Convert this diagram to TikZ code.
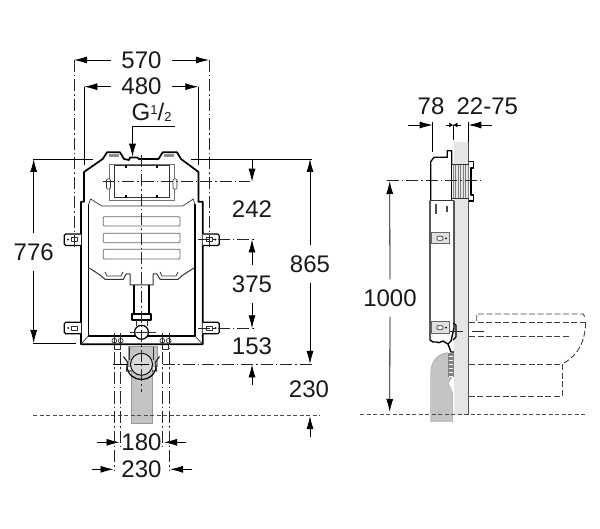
\documentclass[tikz,border=0pt]{standalone}
\usepackage{fontspec}
\setmainfont{Liberation Sans}
\usepackage{tikz}
\usetikzlibrary{arrows.meta,calc}

\begin{document}
\begin{tikzpicture}[
    x=1pt, y=-1pt,
    font=\fontsize{24}{26}\selectfont,
    measure/.style={inner sep=10pt, text=black!90},
    dim/.style={draw=black, line width=0.8pt, -{Latex[length=13pt,width=7pt]}},
    extline/.style={draw=black, line width=0.8pt},
    axisline/.style={draw=black!85, line width=0.9pt, dash pattern=on 12pt off 3pt on 1.5pt off 3pt},
    floorline/.style={draw=black!70, line width=0.8pt, dash pattern=on 4pt off 2.5pt},
    hidden/.style={draw=black!75, line width=0.9pt, dash pattern=on 6pt off 2.5pt},
    frameline/.style={draw=black, line width=1.7pt, line join=round},
    thinline/.style={draw=black!80, line width=0.7pt, line join=round},
    slot/.style={draw=black!60, line width=0.8pt, rounded corners=1pt},
    ear/.style={draw=black, fill=white, line width=1.2pt, rounded corners=1.5pt},
    drain/.style={fill=black!23, draw=black!40, line width=0.4pt}
]
    \useasboundingbox (0,0) rectangle (600,529);

    % Wall and drain pieces (side view) go first
    \fill[black!10] (453.5,141.7) rectangle (468.3,415);
    \draw[black!70, line width=1pt] (468.3,141.7) -- (468.3,415);

    % Front view: drain below the frame
    \path[drain] (131,365) rectangle (152.3,422.7);
    \path[drain] (127.7,346) rectangle (156.7,366);
    \draw[black, fill=black!15, line width=0.9pt] (141.5,364.3) circle (11);
    \draw[black, line width=1.2pt] (127,366) .. controls (128,384) and (155,384) .. (156,366);
    \foreach \sx in {1,-1} {
        \begin{scope}[shift={(141.5,0)}, xscale=\sx]
            \draw[thinline, line width=1.3pt] (18,356.5) -- (14,362) -- (15,371) -- (10.5,371);
            \draw[thinline, line width=1pt] (12,347) -- (12,360);
            % feet under the frame
            \draw[thinline] (27.2,344.5) -- (27.2,349) -- (20.8,349) -- (20.8,344.5);
            \draw[thinline, fill=white] (27.2,340.7) circle (2.4);
            \draw[thinline, fill=white] (20.8,340.7) circle (2.4);
        \end{scope}
    }

    % Frame outline
    \draw[frameline] (84,201.7) -- (84,172) -- (102.7,159) -- (107,152.3) -- (120,152.3) -- (124,159)
        -- (129,160) -- (130,157.5) -- (137,157.5) -- (139,159) -- (158.5,159) -- (162.7,152.3)
        -- (177,152.3) -- (181,159) -- (198.5,172) -- (198.5,201.7) -- (202.7,201.7) -- (202.7,344.3)
        -- (81,344.3) -- (81,201.7) -- cycle;
    \draw[frameline, line width=1.3pt] (88.3,204) -- (88.3,336) -- (195,336) -- (195,204);
    \draw[thinline] (81,344.3) -- (88.3,336);
    \draw[thinline] (202.7,344.3) -- (195,336);

    % Lugs on top
    \fill[black!45] (109.3,154.5) rectangle (118.7,157);
    \fill[black!45] (164.3,154.5) rectangle (174.3,157);

    % Panel
    \draw[draw=black!55, line width=0.8pt] (109.3,164) rectangle (174,200);
    \draw[draw=black!80, line width=1pt] (114.3,165.5) rectangle (169.3,198);
    \foreach \px in {126,157} {
        \fill[black] (\px-1,165.5) rectangle (\px+1,168);
        \fill[black] (\px-1,195.5) rectangle (\px+1,198);
    }
    \draw[thinline, fill=white, rounded corners=1pt] (106.5,179) rectangle (110.5,189);
    \draw[thinline, fill=white, rounded corners=1pt] (173,179) rectangle (177,189);

    % Tank
    \draw[thinline] (88.3,205) -- (90.7,199) -- (101.7,206) -- (182.7,206) -- (193.3,199) -- (195,205);
    \draw[slot] (103.3,216.7) rectangle (180,226);
    \draw[slot] (103.3,233.3) rectangle (180,242.7);
    \draw[slot] (103.3,249.3) rectangle (180,259);
    \draw[thinline, line width=1pt] (89.3,268) -- (100,275) -- (105,279.3) -- (123.3,279.3) -- (126,274) -- (130,274)
        -- (130,285) -- (134,285) -- (149,285) -- (153,285) -- (153,274) -- (157,274) -- (160,279.3)
        -- (178,279.3) -- (183,275) -- (194,268);
    \draw[thinline] (105,272) -- (107,276) -- (121,276) -- (123,272);
    \draw[thinline] (160,272) -- (162,276) -- (176,276) -- (178,272);

    % Pipe
    \draw[frameline, line width=1.1pt] (134,285) -- (134,314);
    \draw[frameline, line width=1.1pt] (149,285) -- (149,314);
    \draw[frameline, line width=1.1pt] (132,314) rectangle (151,320);
    \draw[thinline] (136,320) -- (136,326);
    \draw[thinline] (147,320) -- (147,326);
    \draw[draw=black, fill=white, line width=1.2pt] (141.5,332.3) circle (7);
    \draw[thinline, line width=0.9pt] (130,332.3) -- (155.7,332.3);

    % Ears
    \foreach \ey in {234,322.3} {
        \draw[ear] (81,\ey) -- (64.3,\ey) -- (64.3,\ey+11.5) -- (81,\ey+11.5);
        \draw[ear] (202.7,\ey) -- (219.3,\ey) -- (219.3,\ey+11.5) -- (202.7,\ey+11.5);
        \fill[black] (68,\ey+5.7) circle (1);
        \draw[thinline] (71,\ey+3.7) rectangle (77,\ey+7.7);
        \fill[black] (215.5,\ey+5.7) circle (1);
        \draw[thinline] (206,\ey+3.7) rectangle (212,\ey+7.7);
    }

    % Axes, front view
    \draw[axisline] (141.5,155) -- (141.5,392);
    \draw[axisline] (102.7,181.7) -- (250,181.7);
    \draw[axisline] (198,239.3) -- (255,239.3);
    \draw[axisline] (198,328.3) -- (255,328.3);
    \draw[axisline] (163,364.3) -- (312,364.3);
    \draw[extline] (113,364.3) -- (128,364.3);
    \draw[extline] (134,364.3) -- (149,364.3);

    % Extension lines
    \draw[axisline] (74,60) -- (74,248);
    \draw[axisline] (209,60) -- (209,248);
    \draw[extline] (84.3,86.7) -- (84.3,165);
    \draw[extline] (198.3,86.7) -- (198.3,165);
    \draw[extline] (33,159) -- (92.7,159);
    \draw[extline] (191,159) -- (312,159);
    \draw[extline] (33,343.7) -- (76,343.7);
    \draw[floorline] (33,415.7) -- (320,415.7);
    \draw[axisline] (114.3,333) -- (114.3,470);
    \draw[axisline] (120.7,333) -- (120.7,446);
    \draw[axisline] (162.7,333) -- (162.7,446);
    \draw[axisline] (169,333) -- (169,470);

    % Dimensions, front view
    \node[measure] (d570) at (141.5,60) {570};
    \draw[dim] (d570.west) -- (74,60);
    \draw[dim] (d570.east) -- (209,60);
    \node[measure] (d480) at (141.5,86.7) {480};
    \draw[dim] (d480.west) -- (84.3,86.7);
    \draw[dim] (d480.east) -- (198.3,86.7);

    \node[inner sep=0pt, anchor=base west, text=black!90] (gthread) at (131.5,121) {G\raisebox{6.5pt}{\fontsize{13}{13}\selectfont 1}/\raisebox{-0.5pt}{\fontsize{13}{13}\selectfont 2}};
    \coordinate (gend) at (175,126.7);
    \draw[dim] (gend) -| (132.5,156.7);

    \node[measure] (d776) at (33.7,252) {776};
    \draw[dim] (d776.north) -- (33.7,159);
    \draw[dim] (d776.south) -- (33.7,343);
    \node[measure] (d865) at (310,264) {865};
    \draw[dim] (d865.north) -- (310,159);
    \draw[dim] (d865.south) -- (310,364);

    \coordinate (t242) at (252,160);
    \draw[dim] (t242) -- (252,181.7);
    \node[measure] (d242) at (252,209) {242};
    \node[measure] (d375) at (252,284) {375};
    \draw[dim] (d375.north) -- (252,239.5);
    \draw[dim] (d375.south) -- (252,328.3);
    \node[measure] (d153) at (252,346.7) {153};
    \coordinate (t153) at (252,385);
    \draw[dim] (t153) -- (252,364.5);
    \node[measure] (d230r) at (309,389) {230};
    \coordinate (t230) at (310,437);
    \draw[dim] (t230) -- (310,416);

    \node[measure] (d180) at (141.5,442) {180};
    \coordinate (l180) at (96.7,442.3);
    \coordinate (r180) at (186,442.3);
    \draw[dim] (l180) -- (119.5,442.3);
    \draw[dim] (r180) -- (164,442.3);
    \node[measure] (d230) at (141.5,469) {230};
    \coordinate (l230) at (91.7,469.3);
    \coordinate (r230) at (192,469.3);
    \draw[dim] (l230) -- (113.5,469.3);
    \draw[dim] (r230) -- (170,469.3);

    % Side view: drain
    \path[drain] (430.7,421.7) -- (430.7,372) .. controls (430.7,362) and (438,353) .. (448,352.7)
        -- (453,376) -- (448,383) -- (452.3,392) -- (452.3,421.7) -- cycle;
    \fill[black!50] (448,353) rectangle (453.7,377);
    \foreach \ty in {356,360,...,376} {
        \draw[white, line width=0.5pt] (449,\ty) -- (452.7,\ty);
    }

    % Side view: box
    \fill[white] (430.5,200.7) rectangle (453.5,341.7);
    \draw[frameline, line width=1.3pt] (430.7,200.7) -- (430.7,161.7) -- (434,157.3) -- (447.3,157.3)
        -- (447.3,150.7) -- (451.7,150.7) -- (451.7,164);
    \draw[frameline, line width=1pt] (451.7,164) -- (451.7,200.7);
    \draw[frameline, line width=1.4pt] (430,200.7) -- (430,340) -- (433,342) -- (437,342) -- (439,342.7) -- (443,341)
        -- (448,344) -- (451,352) -- (454,352);
    \draw[frameline, line width=1.4pt] (454,200.7) -- (454,328) -- (451,341) -- (448,344);
    \draw[thinline] (430,200.7) -- (454,200.7);
    \fill[black!70] (435,204) rectangle (437,214);
    \fill[black!70] (446,206) rectangle (448,212);

    % Side view: thread
    \foreach \tx in {453,455.5,...,468} {
        \draw[black!50, line width=0.6pt] (\tx,164) -- (\tx,198.3);
    }
    \draw[thinline] (451.7,164) -- (469.3,164);
    \draw[thinline] (451.7,198.3) -- (469.3,198.3);
    \draw[frameline, line width=1.4pt] (469.3,161.7) -- (473.5,161.7) -- (473.5,168) -- (471,168) -- (471,195)
        -- (473.5,195) -- (473.5,201) -- (469.3,201);

    % Side view: ears
    \foreach \ey in {232.3,321.7} {
        \draw[black!60, fill=black!12, line width=1pt] (431.7,\ey) rectangle (449.5,\ey+11.7);
        \draw[thinline, fill=white, rounded corners=1pt] (437,\ey+4) rectangle (443,\ey+8);
        \fill[black] (446,\ey+6) circle (1);
    }
    \draw[frameline, line width=1.1pt] (453,323) -- (456,325) -- (456,337) -- (453,340);

    % Toilet, hidden lines
    \draw[hidden] (476.7,321) -- (476.7,314) -- (583.3,314) -- (585.7,319);
    \draw[hidden] (469,322.3) -- (585.7,322.3);
    \draw[hidden] (469,336.7) -- (570,336.7);
    \draw[hidden] (585.7,322.3) .. controls (585,342) and (578,355) .. (564,363);
    \draw[hidden] (469,364.3) -- (562.3,364.3) -- (562.3,396) -- (469,396);

    % Axes and floor, side view
    \draw[axisline] (386.7,180.7) -- (480.7,180.7);
    \draw[axisline, dash pattern=on 13pt off 9pt on 12pt off 20pt] (450,331.7) -- (484,331.7);
    \draw[floorline] (360,414.7) -- (585,414.7);

    % Dimensions, side view
    \node[inner sep=0pt, text=black!90] (d78) at (431,106) {78};
    \node[inner sep=0pt, text=black!90] (d2275) at (487.3,106) {22-75};
    \coordinate (l78) at (408.3,125);
    \draw[dim] (l78) -- (432.7,125);
    \draw[extline] (432.7,122) -- (432.7,151.7);
    \coordinate (l22) at (446,125);
    \coordinate (r22) at (460.5,125);
    \coordinate (c22) at (453.3,125);
    \draw[-{Latex[length=4pt,width=5pt]}, line width=0.6pt] (l22) -- (c22);
    \draw[-{Latex[length=4pt,width=5pt]}, line width=0.6pt] (r22) -- (c22);
    \draw[extline] (c22) -- (453.3,140);
    \draw[extline] (468.3,122) -- (468.3,141.7);
    \coordinate (r75) at (491.7,125);
    \draw[dim] (r75) -- (468.3,125);
    \node[measure] (d1000) at (390,298) {1000};
    \draw[dim] (d1000.north) -- (389.7,181);
    \draw[dim] (d1000.south) -- (389.7,412);
\end{tikzpicture}
\end{document}
